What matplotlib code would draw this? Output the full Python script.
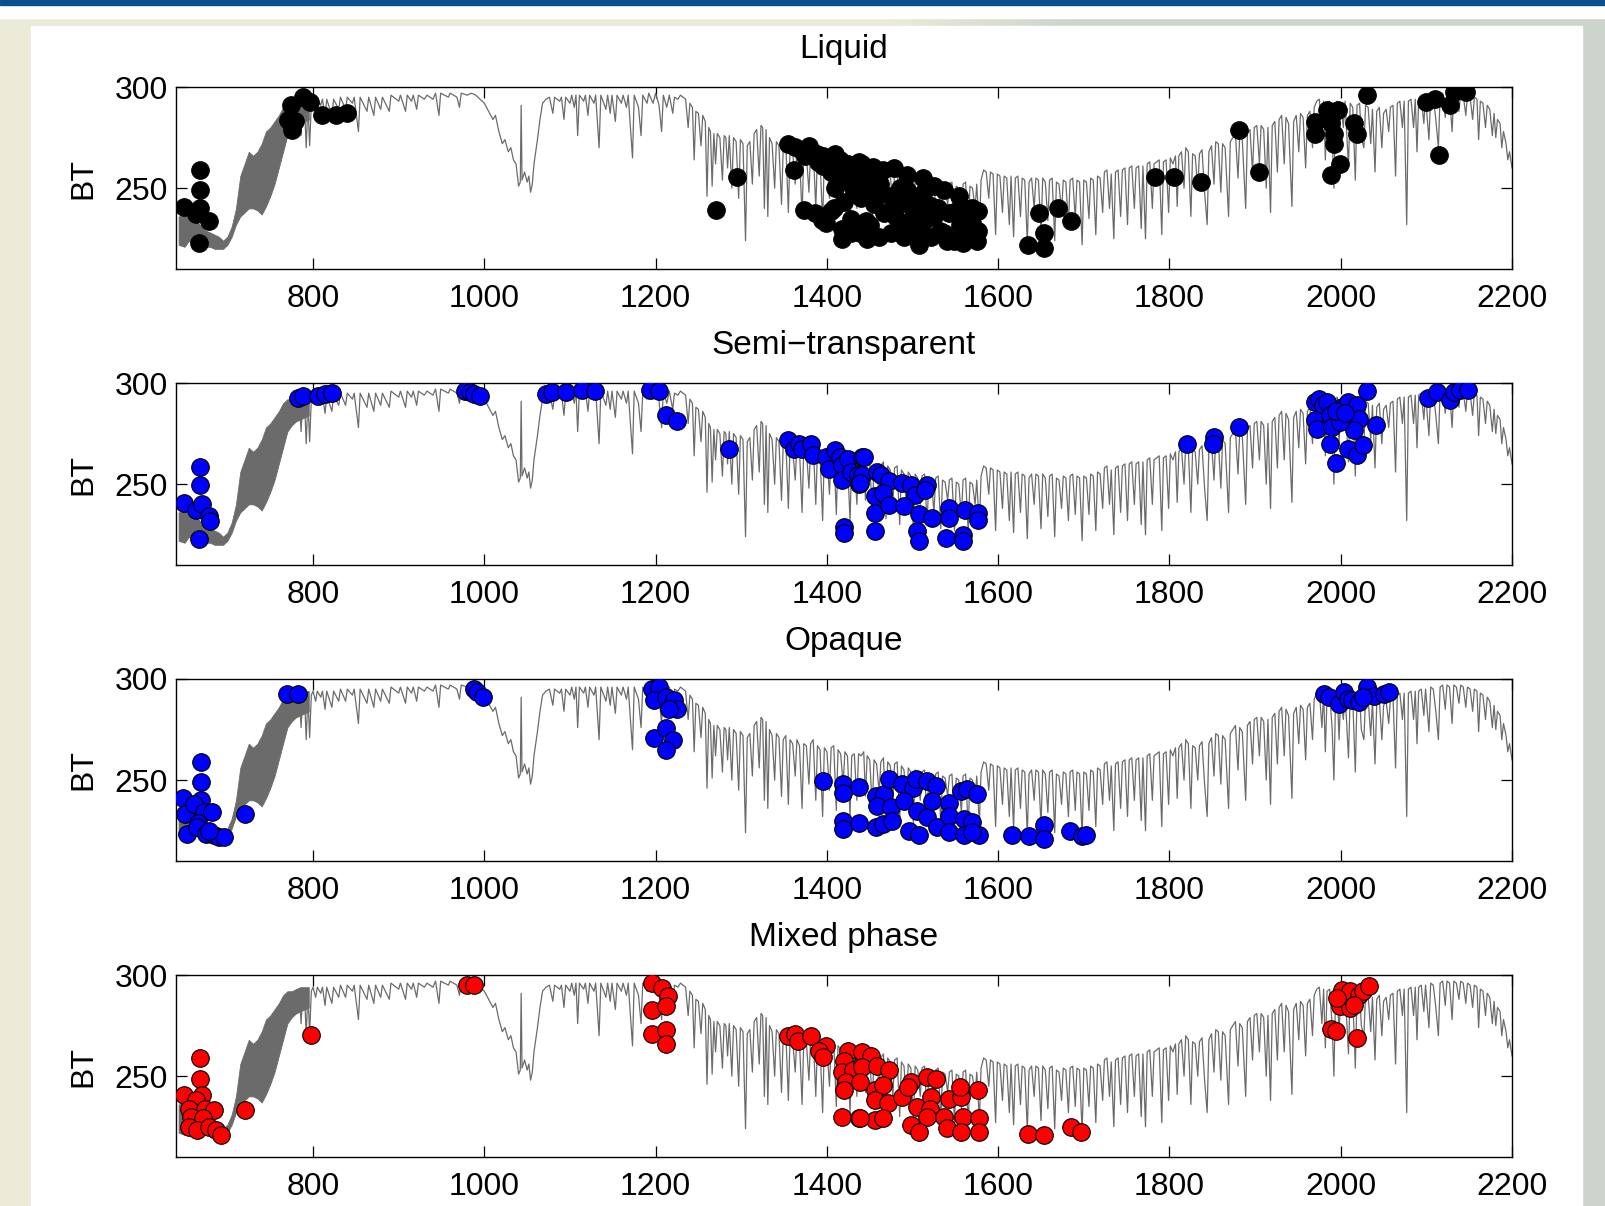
import numpy as np
import matplotlib
matplotlib.use("Agg")
import matplotlib.pyplot as plt
from matplotlib.patches import Rectangle

plt.rcParams['font.family'] = ['Liberation Sans', 'DejaVu Sans']

# ---- simulated clear-sky spectrum (wavenumber cm-1, BT K) ----
# dense CO2 band, drawn as a filled envelope
band_wn = [643, 650, 655, 660, 665, 670, 675, 680, 685, 690, 695, 700, 705, 710,
           715, 720, 725, 730, 735, 740, 745, 750, 755, 760, 765, 770, 775, 780,
           785, 790, 795]
band_lo = [222, 221, 224, 223, 222, 222, 221, 221, 220, 220, 220, 222, 226, 232,
           236, 238, 240, 240, 239, 237, 241, 246, 252, 260, 268, 276, 279, 281,
           282, 283, 284]
band_hi = [236, 237, 236, 234, 233, 231, 229, 228, 227, 226, 224, 226, 231, 240,
           256, 262, 268, 266, 268, 272, 278, 280, 283, 286, 290, 292, 292, 293,
           294, 294, 294]

spectrum = [
    (784, 293), (786, 276), (788, 293), (790, 292), (792, 270), (794, 292), (796, 271),
    (798, 292), (800, 294), (803, 289), (805, 294), (809, 291), (811, 294), (814, 285),
    (816, 294), (822, 286), (824, 294), (830, 289), (832, 295), (838, 289), (840, 295),
    (846, 292), (848, 295), (853, 278), (855, 295), (863, 288), (865, 295), (871, 286),
    (873, 295), (879, 289), (881, 295), (889, 288), (891, 296), (900, 293), (902, 296),
    (908, 288), (910, 296), (915, 293), (917, 296), (921, 289), (923, 296), (930, 294),
    (933, 296), (940, 294), (943, 297), (947, 286), (949, 297), (958, 295), (960, 297),
    (968, 295), (971, 290), (973, 297), (980, 296), (985, 297), (990, 296), (995, 294),
    # ozone band
    (1000, 292), (1005, 288), (1010, 284), (1013, 286), (1017, 278), (1021, 272),
    (1024, 274), (1028, 268), (1031, 270), (1034, 264), (1037, 262), (1040, 251),
    (1042, 253), (1043, 291), (1044, 254), (1047, 258), (1050, 253), (1052, 256),
    (1054, 248), (1056, 252), (1058, 262), (1062, 274), (1065, 284), (1068, 292),
    (1072, 294),
    # window
    (1076, 295), (1080, 287), (1082, 295), (1088, 293), (1090, 295), (1093, 284),
    (1095, 295), (1100, 292), (1102, 296), (1105, 290), (1107, 296), (1109, 276),
    (1111, 296), (1116, 293), (1118, 296), (1121, 286), (1123, 296), (1128, 292),
    (1130, 296), (1134, 270), (1136, 296), (1142, 289), (1144, 296), (1147, 287),
    (1149, 296), (1153, 283), (1155, 296), (1160, 292), (1162, 296), (1166, 290),
    (1168, 296), (1173, 265), (1175, 296), (1180, 290), (1183, 276), (1185, 296),
    (1190, 292), (1192, 297), (1197, 292), (1200, 297), (1204, 291), (1207, 278),
    (1209, 296), (1213, 290), (1216, 296), (1220, 287), (1222, 295), (1226, 294),
    (1229, 296), (1232, 295),
    # water vapour band
    (1235, 294), (1238, 280), (1240, 292), (1243, 290), (1245, 264), (1247, 288),
    (1250, 287), (1253, 271), (1255, 286), (1258, 283), (1260, 246), (1262, 280),
    (1264, 278), (1266, 251), (1268, 277), (1270, 262), (1272, 277), (1275, 275),
    (1278, 254), (1280, 276), (1282, 275), (1284, 260), (1286, 276), (1289, 250),
    (1291, 275), (1294, 273), (1297, 245), (1299, 274), (1302, 272), (1305, 224),
    (1307, 271), (1310, 273), (1313, 252), (1315, 277), (1318, 279), (1321, 256),
    (1323, 281), (1325, 280), (1327, 240), (1329, 279), (1331, 236), (1333, 275),
    (1336, 272), (1339, 250), (1341, 273), (1344, 271), (1347, 242), (1349, 270),
    (1352, 272), (1355, 238), (1357, 270), (1360, 268), (1363, 252), (1365, 270),
    (1368, 267), (1371, 236), (1373, 268), (1376, 267), (1379, 248), (1381, 268),
    (1384, 270), (1387, 240), (1389, 267), (1392, 265), (1395, 232), (1397, 266),
    (1400, 264), (1403, 245), (1405, 266), (1408, 267), (1411, 235), (1413, 265),
    (1416, 263), (1419, 248), (1421, 264), (1424, 262), (1427, 232), (1429, 262),
    (1432, 263), (1435, 240), (1437, 263), (1440, 262), (1443, 264), (1445, 242),
    (1447, 262), (1450, 260), (1453, 236), (1455, 260), (1458, 258), (1461, 244),
    (1463, 259), (1466, 261), (1469, 233), (1471, 259), (1474, 257), (1477, 240),
    (1479, 258), (1482, 259), (1485, 230), (1487, 257), (1490, 255), (1493, 238),
    (1495, 256), (1498, 254), (1501, 228), (1503, 255), (1506, 253), (1509, 240),
    (1511, 254), (1514, 255), (1517, 230), (1519, 253), (1522, 252), (1525, 236),
    (1527, 253), (1530, 254), (1533, 228), (1535, 252), (1538, 251), (1541, 242),
    (1543, 252), (1546, 253), (1549, 227), (1551, 251), (1554, 250), (1557, 234),
    (1559, 252), (1562, 253), (1565, 226), (1567, 251), (1570, 250), (1573, 240),
    (1575, 252), (1578, 228), (1580, 254), (1583, 259), (1586, 258), (1589, 245),
    (1591, 258), (1594, 257), (1597, 227), (1599, 257), (1602, 256), (1605, 238),
    (1607, 256), (1610, 255), (1613, 232), (1615, 256), (1618, 226), (1620, 255),
    (1623, 256), (1626, 236), (1628, 255), (1631, 254), (1634, 223), (1636, 253),
    (1639, 255), (1642, 240), (1644, 255), (1647, 254), (1650, 228), (1652, 255),
    (1655, 253), (1658, 234), (1660, 254), (1663, 255), (1666, 224), (1668, 253),
    (1671, 252), (1674, 238), (1676, 254), (1679, 253), (1682, 232), (1684, 254),
    (1687, 255), (1690, 235), (1692, 254), (1695, 253), (1698, 222), (1700, 254),
    (1703, 253), (1706, 235), (1708, 255), (1711, 254), (1714, 227), (1716, 256),
    (1719, 255), (1722, 238), (1724, 258), (1727, 259), (1730, 240), (1732, 257),
    (1735, 225), (1737, 258), (1740, 259), (1743, 236), (1745, 259), (1748, 260),
    (1751, 232), (1753, 260), (1756, 261), (1759, 240), (1761, 260), (1764, 261),
    (1767, 230), (1769, 261), (1772, 225), (1774, 262), (1777, 263), (1780, 240),
    (1782, 262), (1785, 263), (1788, 264), (1791, 227), (1793, 263), (1796, 264),
    (1799, 238), (1801, 265), (1804, 262), (1807, 266), (1809, 241), (1811, 266),
    (1814, 268), (1817, 250), (1819, 270), (1822, 268), (1825, 236), (1827, 267),
    (1830, 266), (1833, 250), (1835, 267), (1838, 269), (1841, 248), (1844, 232),
    (1846, 268), (1849, 271), (1852, 252), (1854, 273), (1857, 272), (1860, 248),
    (1862, 272), (1865, 270), (1869, 236), (1871, 273), (1874, 275), (1877, 277),
    (1880, 255), (1882, 276), (1885, 274), (1889, 240), (1891, 277), (1894, 279),
    (1897, 258), (1899, 280), (1902, 281), (1905, 262), (1907, 281), (1910, 279),
    (1913, 250), (1915, 280), (1918, 238), (1920, 281), (1923, 283), (1926, 258),
    (1928, 284), (1931, 286), (1934, 262), (1936, 285), (1939, 282), (1943, 241),
    (1945, 283), (1948, 286), (1951, 268), (1953, 287), (1956, 285), (1959, 260),
    (1961, 286), (1964, 288), (1967, 270), (1969, 290), (1972, 293), (1975, 294),
    (1978, 276), (1980, 293), (1982, 264), (1984, 292), (1987, 293), (1990, 275),
    (1992, 250), (1994, 292), (1996, 293), (1998, 270), (2000, 292), (2003, 280),
    (2005, 293), (2009, 261), (2011, 292), (2014, 290), (2017, 254), (2019, 291),
    (2022, 292), (2024, 275), (2027, 270), (2029, 291), (2032, 290), (2035, 272),
    (2037, 289), (2040, 258), (2042, 288), (2045, 290), (2048, 270), (2050, 287),
    (2053, 289), (2056, 278), (2058, 290), (2061, 291), (2064, 256), (2066, 292),
    (2069, 293), (2072, 280), (2074, 293), (2077, 232), (2079, 293), (2082, 294),
    (2085, 280), (2087, 294), (2089, 268), (2091, 294), (2094, 295), (2097, 282),
    (2099, 295), (2103, 274), (2105, 296), (2108, 295), (2111, 284), (2114, 270),
    (2116, 296), (2119, 297), (2122, 285), (2124, 297), (2127, 296), (2130, 278),
    (2132, 297), (2135, 296), (2138, 288), (2140, 297), (2143, 296), (2146, 286),
    (2148, 296), (2151, 295), (2154, 284), (2156, 295), (2159, 294), (2161, 274),
    (2163, 293), (2166, 292), (2169, 280), (2171, 291), (2174, 289), (2177, 276),
    (2179, 287), (2181, 275), (2183, 284), (2186, 282), (2188, 270), (2190, 278),
    (2193, 272), (2195, 264), (2197, 268), (2200, 260),
]
spec_wn = [p[0] for p in spectrum]
spec_bt = [p[1] for p in spectrum]

# ---- channel points per cloud class ----
liquid = [
    (649, 240.5), (663, 237), (668, 240), (668, 249), (668, 259), (679, 234), (667, 223),
    (771, 283.6), (775, 278.7), (779, 283), (774, 291), (788, 295), (796, 292.6),
    (811, 286), (827, 286), (840, 287), (1270, 239.3), (1295, 255.4),
    (1355, 271.8), (1363, 270.5), (1362, 259), (1379, 271), (1382, 268), (1373, 239.3),
    (1386, 237.7), (1394, 234.4), (1399, 233), (1405, 238.5), (1410, 267), (1415, 264),
    (1418, 254), (1420, 243.4), (1428, 235), (1418, 230), (1418, 225), (1436, 228.7),
    (1438, 263), (1438, 254), (1370, 269), (1388, 267), (1395, 266), (1402, 265),
    (1425, 262), (1432, 261), (1395, 261), (1405, 258), (1425, 256), (1430, 250),
    (1410, 250), (1440, 245), (1441, 262), (1454, 260.7), (1466, 259), (1478, 259.8),
    (1493, 256.6), (1512, 255), (1525, 251), (1537, 249), (1554, 246), (1557, 241),
    (1576, 238.5), (1576, 228.7), (1569, 232.8), (1559, 223), (1540, 223.8), (1522, 226),
    (1508, 222), (1503, 229.5), (1489, 232.8), (1475, 228), (1461, 226), (1446, 234),
    (1455, 242), (1474, 246), (1467, 237.7), (1480, 236), (1514, 234.4), (1439, 228),
    (1537, 228), (1542, 237.7), (1522, 241), (1493, 249), (1512, 247.5), (1450, 255),
    (1462, 252), (1485, 250), (1500, 246), (1530, 240), (1548, 238), (1565, 236),
    (1500, 236), (1532, 229), (1565, 226), (1447, 225), (1490, 226),
    (1375, 266), (1390, 263), (1400, 262), (1408, 262), (1412, 258), (1422, 259),
    (1435, 258), (1445, 250), (1460, 247), (1480, 244), (1495, 242), (1510, 240),
    (1525, 236), (1555, 232), (1570, 240), (1408, 240), (1428, 228), (1450, 232),
    (1485, 231), (1510, 228), (1548, 224), (1575, 224),
    (1635, 222), (1648, 237.7), (1670, 240), (1685, 233.6), (1654, 228), (1653, 220.5),
    (1783, 255.7), (1805, 255.7), (1837, 253), (1881, 278.7), (1904, 258),
    (1970, 282.8), (1970, 277), (1984, 288.5), (1997, 288.5), (1989, 282), (1992, 272),
    (1992, 277), (1999, 262), (1989, 256.6), (2016, 282), (2019, 277), (2031, 296),
    (2100, 292.6), (2110, 294.3), (2127, 291), (2132, 297.5), (2146, 297.5), (2115, 266.4),
]
semi = [
    (649, 240.5), (663, 237), (670, 240), (679, 234), (680, 232), (668, 249.5),
    (668, 258.5), (667, 223), (783, 292.5), (788, 293.4), (806, 293.8), (814, 294.6),
    (822, 295), (978, 296), (983, 295.4), (988, 294.6), (995, 293.4), (1072, 294.6),
    (1079, 295.4), (1095, 295.4), (1114, 296.7), (1129, 296.2), (1194, 296.7),
    (1204, 296.2), (1212, 284.3), (1225, 281), (1286, 267.2), (1355, 271.6),
    (1361, 267.2), (1368, 270), (1371, 267.2), (1382, 270), (1384, 264.3), (1399, 263.4),
    (1402, 257.7), (1410, 266.7), (1415, 263.4), (1418, 259.3), (1418, 252), (1425, 262.6),
    (1428, 256), (1436, 254.4), (1438, 250.3), (1441, 263.4), (1420, 229), (1420, 225.7),
    (1443, 263.6), (1441, 254.6), (1439, 250.5), (1458, 256), (1463, 254.6), (1473, 251.3),
    (1488, 250.5), (1498, 249.7), (1503, 244.8), (1517, 249.7), (1515, 247.2), (1456, 244),
    (1465, 245.6), (1456, 235.8), (1473, 239.9), (1490, 239), (1456, 226.8), (1508, 235),
    (1505, 226.8), (1508, 222), (1523, 233.3), (1543, 238.2), (1542, 233.3), (1539, 223.5),
    (1559, 225), (1559, 222), (1561, 237.4), (1576, 235.8), (1576, 232.5),
    (1820, 270), (1852, 273.4), (1851, 270), (1881, 278.3), (1970, 290.5), (1975, 292.2),
    (1979, 288.9), (1984, 290.5), (1970, 281.5), (1972, 277.5), (1987, 284), (1990, 278.3),
    (1987, 270), (1994, 260.3), (2001, 288), (2009, 290.5), (2011, 282.4), (2019, 288.9),
    (2021, 282.4), (2009, 267.6), (2019, 264.4), (2026, 269.3), (2016, 276.6), (1999, 280.7),
    (1995, 286), (2005, 285), (2031, 296.2), (2041, 279), (2102, 292.5), (2112, 295.4),
    (2127, 291.8), (2132, 295.4), (2139, 296.7), (2149, 296.7),
]
opaque = [
    (648, 240.9), (669, 259), (669, 249), (669, 240), (651, 233.2), (661, 238), (673, 234),
    (682, 234), (653, 223.4), (666, 229), (664, 226.7), (675, 223.4), (684, 222.6),
    (690, 221.8), (696, 221.8), (678, 225), (720, 233.2), (770, 292.7), (782, 292.7),
    (988, 295), (992, 293.5), (998, 291), (1196, 295), (1204, 296), (1198, 289.4),
    (1212, 291), (1221, 289.4), (1225, 285.3), (1216, 285.3), (1198, 270.7), (1212, 275.6),
    (1220, 269.9), (1212, 265), (1395, 249.5), (1419, 247.9), (1437, 246.6), (1419, 243.8),
    (1419, 230), (1419, 225.9), (1437, 229), (1457, 242.2), (1467, 243), (1472, 250.3),
    (1488, 247.9), (1500, 246.2), (1504, 250.3), (1517, 249.5), (1527, 247), (1459, 237.3),
    (1475, 236.5), (1457, 226.7), (1465, 228.3), (1476, 230), (1490, 239.7), (1496, 225),
    (1507, 222.6), (1505, 234.8), (1517, 231.6), (1523, 239.7), (1529, 226.7), (1542, 238.9),
    (1542, 232.4), (1542, 224.2), (1556, 244.6), (1564, 245.4), (1575, 243), (1560, 230.8),
    (1570, 229.1), (1560, 222.6), (1578, 222.6), (1570, 224.2), (1616, 222.9),
    (1636, 222.1), (1653, 228), (1653, 221), (1684, 224.7), (1698, 222.3), (1702, 222.6),
    (1980, 292.7), (1986, 291), (1998, 287.8), (2004, 293.5), (2009, 290.2), (2013, 289.4),
    (2021, 288.6), (2031, 296), (2039, 291.8), (2050, 292.7), (2056, 293.5), (2026, 291),
]
mixed = [
    (649, 240.9), (668, 258.8), (668, 248.7), (670, 240.6), (663, 238.1), (655, 234),
    (674, 234), (684, 233.2), (658, 230), (671, 229.2), (655, 225), (665, 223.4),
    (679, 225), (687, 223.4), (692, 221), (720, 233.2), (798, 270.2), (980, 295),
    (988, 295), (1196, 295.9), (1207, 293.5), (1214, 289.4), (1196, 282.9), (1212, 284.5),
    (1196, 270.7), (1212, 272.6), (1212, 265.8), (1355, 269.9), (1363, 270.7),
    (1366, 267.4), (1382, 269.9), (1399, 265), (1391, 262.2), (1396, 259.3), (1425, 262.5),
    (1420, 257.7), (1418, 252), (1430, 252.8), (1422, 247), (1420, 243.3), (1418, 230),
    (1438, 229.2), (1441, 256), (1441, 261.7), (1451, 260), (1441, 254.4), (1439, 247),
    (1458, 255.2), (1473, 253), (1456, 243), (1466, 245.4), (1456, 238.1), (1471, 236.5),
    (1488, 239.7), (1498, 247), (1495, 244.6), (1517, 249.5), (1527, 248.7), (1505, 234.9),
    (1522, 239.7), (1520, 234), (1517, 230), (1498, 225.9), (1508, 222.6), (1537, 230),
    (1540, 224.3), (1542, 238.9), (1557, 239.7), (1555, 244.6), (1576, 243.3), (1559, 230),
    (1578, 229.2), (1556, 222.6), (1578, 222.6), (1456, 228.3), (1466, 229.2),
    (1439, 229.2), (1635, 221.5), (1653, 221), (1685, 225), (1697, 222.6),
    (1989, 273.1), (1994, 272.3), (2019, 269), (2001, 292.7), (2011, 291.9), (2021, 290.2),
    (2026, 291.9), (2033, 294.8), (1999, 284.5), (2011, 283.7), (1996, 288.6), (2016, 285.3),
]

titles = ['Liquid', 'Semi\u2212transparent', 'Opaque', 'Mixed phase']
point_sets = [liquid, semi, opaque, mixed]
face_colors = ['black', '#0000ff', '#0000ff', '#ff0000']
x_ticks = [800, 1000, 1200, 1400, 1600, 1800, 2000, 2200]
y_ticks = [250, 300]

W, H = 1606, 1206
fig = plt.figure(figsize=(W / 100, H / 100), dpi=100)

# slide background
bg = fig.add_axes([0, 0, 1, 1])
bg.set_xlim(0, W)
bg.set_ylim(H, 0)
bg.axis('off')
left_col = np.array([0.925, 0.925, 0.845])
right_col = np.array([0.80, 0.835, 0.80])
t = np.clip((np.linspace(0, 1, 400) - 0.55) / 0.12, 0, 1)[None, :, None]
grad = left_col * (1 - t) + right_col * t
bg.imshow(np.repeat(grad, 2, axis=0), extent=[0, W, H, 0], aspect='auto', zorder=0)
bg.add_patch(Rectangle((0, 0), W, 5, color='#0d4f8e', zorder=2))
bg.add_patch(Rectangle((0, 5), W, 13, color='white', zorder=1))
bg.add_patch(Rectangle((31, 26), 1551, H - 26, color='white', zorder=1))

bottoms = [0.7769, 0.5315, 0.2861, 0.0406]
for title, pts, fc, b in zip(titles, point_sets, face_colors, bottoms):
    ax = fig.add_axes([0.1096, b, 0.8319, 0.1509])
    ax.fill_between(band_wn, band_lo, band_hi, color='#6b6b6b', lw=0.6)
    ax.plot(spec_wn, spec_bt, color='#6b6b6b', lw=0.9)
    px = [p[0] for p in pts]
    py = [p[1] for p in pts]
    ax.scatter(px, py, s=160, facecolor=fc, edgecolor='black', linewidths=0.8, zorder=3)
    ax.set_xlim(640, 2200)
    ax.set_ylim(210, 300)
    ax.set_xticks(x_ticks)
    ax.set_yticks(y_ticks)
    ax.tick_params(direction='in', length=8, width=0.9, top=True, right=True,
                   labelsize=23)
    ax.tick_params(axis='x', pad=11)
    ax.tick_params(axis='y', pad=6)
    for s in ax.spines.values():
        s.set_linewidth(1.0)
    ax.set_title(title, fontsize=24, pad=21)
    ax.set_ylabel('BT', fontsize=23)
    ax.yaxis.set_label_coords(-0.058, 0.5)

fig.savefig('out.png', dpi=100)
